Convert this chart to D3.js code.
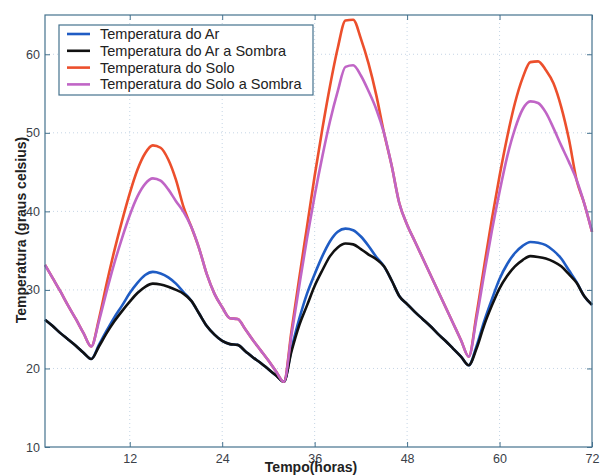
<!DOCTYPE html>
<html>
<head>
<meta charset="utf-8">
<script src="https://cdn.jsdelivr.net/npm/d3@7"></script>
<style>
  body { margin: 0; background: #fff; }
  svg { display: block; font-family: "Liberation Sans", Arial, sans-serif; }
  .tick-label { font-size: 12.5px; fill: #3a4048; }
  .axis-title { font-size: 14px; font-weight: bold; fill: #222; }
  .legendText { font-size: 14.5px; fill: #222; }
</style>
</head>
<body>
<svg width="602" height="476"></svg>
<script>
// Hours (x values)
const hours = [
  1, 2, 3, 4, 5, 6, 7, 8, 9, 10, 11, 12, 13, 14, 15, 16, 17, 18,
  19, 20, 21, 22, 23, 24, 25, 26, 27, 28, 29, 30, 31, 32, 33, 34, 35, 36,
  37, 38, 39, 40, 41, 42, 43, 44, 45, 46, 47, 48, 49, 50, 51, 52, 53, 54,
  55, 56, 57, 58, 59, 60, 61, 62, 63, 64, 65, 66, 67, 68, 69, 70, 71, 72
]

// Temperatura do Ar
const tempAr = [
  26.2, 25.4, 24.5, 23.7, 22.9, 22.0, 21.2, 23.0, 24.8, 26.5, 28.0, 29.6, 30.9, 31.9, 32.3, 32.1, 31.6, 30.8,
  29.7, 28.6, 27.0, 25.4, 24.3, 23.5, 23.1, 23.0, 22.2, 21.4, 20.7, 19.9, 19.1, 18.3, 22.5, 26.3, 29.5, 32.0,
  34.3, 36.2, 37.4, 37.8, 37.6, 36.8, 35.6, 34.2, 33.0, 31.2, 29.2, 28.2, 27.2, 26.3, 25.4, 24.4, 23.5, 22.5,
  21.5, 20.4, 22.8, 26.0, 28.8, 31.4, 33.3, 34.7, 35.6, 36.1, 36.0, 35.7, 35.0, 34.0, 32.5, 31.0, 29.2, 28.1
]

// Temperatura do Ar a Sombra
const tempArSombra = [
  26.2, 25.4, 24.5, 23.7, 22.9, 22.0, 21.2, 22.8, 24.5, 26.0, 27.3, 28.5, 29.6, 30.4, 30.8, 30.7, 30.4, 30.0,
  29.5, 28.6, 27.0, 25.4, 24.3, 23.5, 23.1, 23.0, 22.2, 21.4, 20.7, 19.9, 19.1, 18.3, 22.2, 25.5, 28.0, 30.5,
  32.5, 34.3, 35.4, 35.9, 35.8, 35.2, 34.5, 33.9, 33.0, 31.2, 29.2, 28.2, 27.2, 26.3, 25.4, 24.4, 23.5, 22.5,
  21.5, 20.4, 22.5, 25.5, 28.0, 30.2, 31.8, 33.0, 33.8, 34.3, 34.2, 34.0, 33.6, 33.0, 32.0, 30.9, 29.2, 28.1
]

// Temperatura do Solo
const tempSolo = [
  33.2, 31.5, 29.8, 28.0, 26.3, 24.5, 22.8, 26.3, 30.8, 35.0, 38.8, 42.3, 45.3, 47.4, 48.4, 48.1, 46.6, 44.0,
  40.5, 38.0, 35.3, 32.0, 29.5, 27.8, 26.4, 26.3, 25.0, 23.6, 22.3, 21.0, 19.6, 18.3, 24.8, 31.5, 38.0, 44.5,
  50.5, 56.0, 60.8, 64.3, 64.4, 62.0, 58.8, 54.8, 50.0, 45.8, 41.0, 38.3, 36.2, 34.1, 32.0, 29.9, 27.8, 25.7,
  23.6, 21.5, 26.8, 33.0, 39.0, 44.5, 49.5, 53.8, 57.0, 59.0, 59.1, 58.0, 56.3, 53.3, 49.2, 44.0, 41.0, 37.4
]

// Temperatura do Solo a Sombra
const tempSoloSombra = [
  33.2, 31.5, 29.8, 28.0, 26.3, 24.5, 22.8, 26.0, 29.8, 33.4, 36.6, 39.5, 41.9, 43.5, 44.2, 43.9, 42.8, 41.3,
  39.9, 38.0, 35.3, 32.0, 29.5, 27.8, 26.4, 26.3, 25.0, 23.6, 22.3, 21.0, 19.6, 18.3, 24.3, 30.5, 36.5, 42.0,
  47.0, 51.5, 55.3, 58.4, 58.6, 57.3, 55.3, 53.0, 50.0, 45.8, 41.0, 38.3, 36.2, 34.1, 32.0, 29.9, 27.8, 25.7,
  23.6, 21.5, 26.3, 32.0, 37.5, 42.5, 47.0, 50.5, 53.0, 54.0, 53.8, 52.6, 50.6, 48.4, 46.3, 44.0, 41.0, 37.4
]

const seriesNames = [
  "Temperatura do Ar",
  "Temperatura do Ar a Sombra",
  "Temperatura do Solo",
  "Temperatura do Solo a Sombra"
]
const seriesValues = [tempAr, tempArSombra, tempSolo, tempSoloSombra]
const seriesColors = ["#1f5cc4", "#111111", "#ec4f2c", "#c065c6"]

const xTicks = [12, 24, 36, 48, 60, 72]
const yTicks = [10, 20, 30, 40, 50, 60]

let margin = { left: 45, right: 10, top: 15, bottom: 29 }
let w = 602 - margin.left - margin.right
let h = 476 - margin.top - margin.bottom

let svg = d3.select('svg')
let axisColor = "#45728e"

let xScale = d3.scaleLinear().domain([1, 72]).range([0, w])
let yScale = d3.scaleLinear().domain([10, 65]).range([h, 0])

let plot = svg.append('g')
  .attr('transform', `translate(${margin.left},${margin.top})`)

// Grid (dotted)
plot.append('g')
  .selectAll('line.vgrid')
  .data(xTicks.filter(d => d < 72))
  .enter()
  .append('line')
  .attr('x1', d => xScale(d)).attr('x2', d => xScale(d))
  .attr('y1', 0).attr('y2', h)
  .attr('stroke', '#c5d5e5')
  .attr('stroke-dasharray', '1,3')

plot.append('g')
  .selectAll('line.hgrid')
  .data(yTicks.filter(d => d > 10))
  .enter()
  .append('line')
  .attr('x1', 0).attr('x2', w)
  .attr('y1', d => yScale(d)).attr('y2', d => yScale(d))
  .attr('stroke', '#c5d5e5')
  .attr('stroke-dasharray', '1,3')

// Axes, ticks pointing inward (box style)
function styleAxis(g) {
  g.select('.domain').remove()
  g.selectAll('.tick line').attr('stroke', axisColor)
  g.selectAll('.tick text').attr('class', 'tick-label').attr('fill', null)
}

plot.append('g')
  .attr('transform', `translate(0,${h})`)
  .call(d3.axisBottom(xScale).tickValues(xTicks).tickSizeInner(-5).tickPadding(7))
  .call(styleAxis)

plot.append('g')
  .call(d3.axisTop(xScale).tickValues(xTicks).tickSizeInner(-5).tickFormat(''))
  .call(styleAxis)

plot.append('g')
  .call(d3.axisLeft(yScale).tickValues(yTicks).tickSizeInner(-5).tickPadding(5))
  .call(styleAxis)

plot.append('g')
  .attr('transform', `translate(${w},0)`)
  .call(d3.axisRight(yScale).tickValues(yTicks).tickSizeInner(-5).tickFormat(''))
  .call(styleAxis)

// Lines (smooth through hourly readings)
let line = d3.line()
  .x((d, i) => xScale(hours[i]))
  .y(d => yScale(d))
  .curve(d3.curveMonotoneX)

plot.selectAll('path.series')
  .data(seriesValues)
  .enter()
  .append('path')
  .attr('class', 'series')
  .attr('d', d => line(d))
  .attr('fill', 'none')
  .attr('stroke', (d, i) => seriesColors[i])
  .attr('stroke-width', 2.6)
  .attr('stroke-linejoin', 'round')

// Box
plot.append('rect')
  .attr('x', 0).attr('y', 0)
  .attr('width', w).attr('height', h)
  .attr('fill', 'none')
  .attr('stroke', axisColor)
  .attr('stroke-width', 1.2)

// Axis titles
svg.append('text')
  .attr('class', 'axis-title')
  .attr('x', 311)
  .attr('y', 472)
  .attr('text-anchor', 'middle')
  .text('Tempo(horas)')

svg.append('text')
  .attr('class', 'axis-title')
  .attr('transform', `translate(26,230) rotate(-90)`)
  .attr('text-anchor', 'middle')
  .text('Temperatura (graus celsius)')

// Legend
let legend = svg.append('g')
  .attr('id', 'legend')
  .attr('transform', 'translate(59,25)')

legend.append('rect')
  .attr('width', 254)
  .attr('height', 70)
  .attr('fill', '#fff')
  .attr('stroke', axisColor)
  .attr('stroke-width', 1.2)

legend.selectAll('line')
  .data(seriesNames)
  .enter()
  .append('line')
  .attr('x1', 8).attr('x2', 31)
  .attr('y1', (d, i) => 9 + i * 16.8)
  .attr('y2', (d, i) => 9 + i * 16.8)
  .attr('stroke', (d, i) => seriesColors[i])
  .attr('stroke-width', 2.6)

legend.selectAll('text')
  .data(seriesNames)
  .enter()
  .append('text')
  .attr('class', 'legendText')
  .attr('x', 41)
  .attr('y', (d, i) => 9 + i * 16.8)
  .attr('dy', '0.35em')
  .text(d => d)
</script>
</body>
</html>
